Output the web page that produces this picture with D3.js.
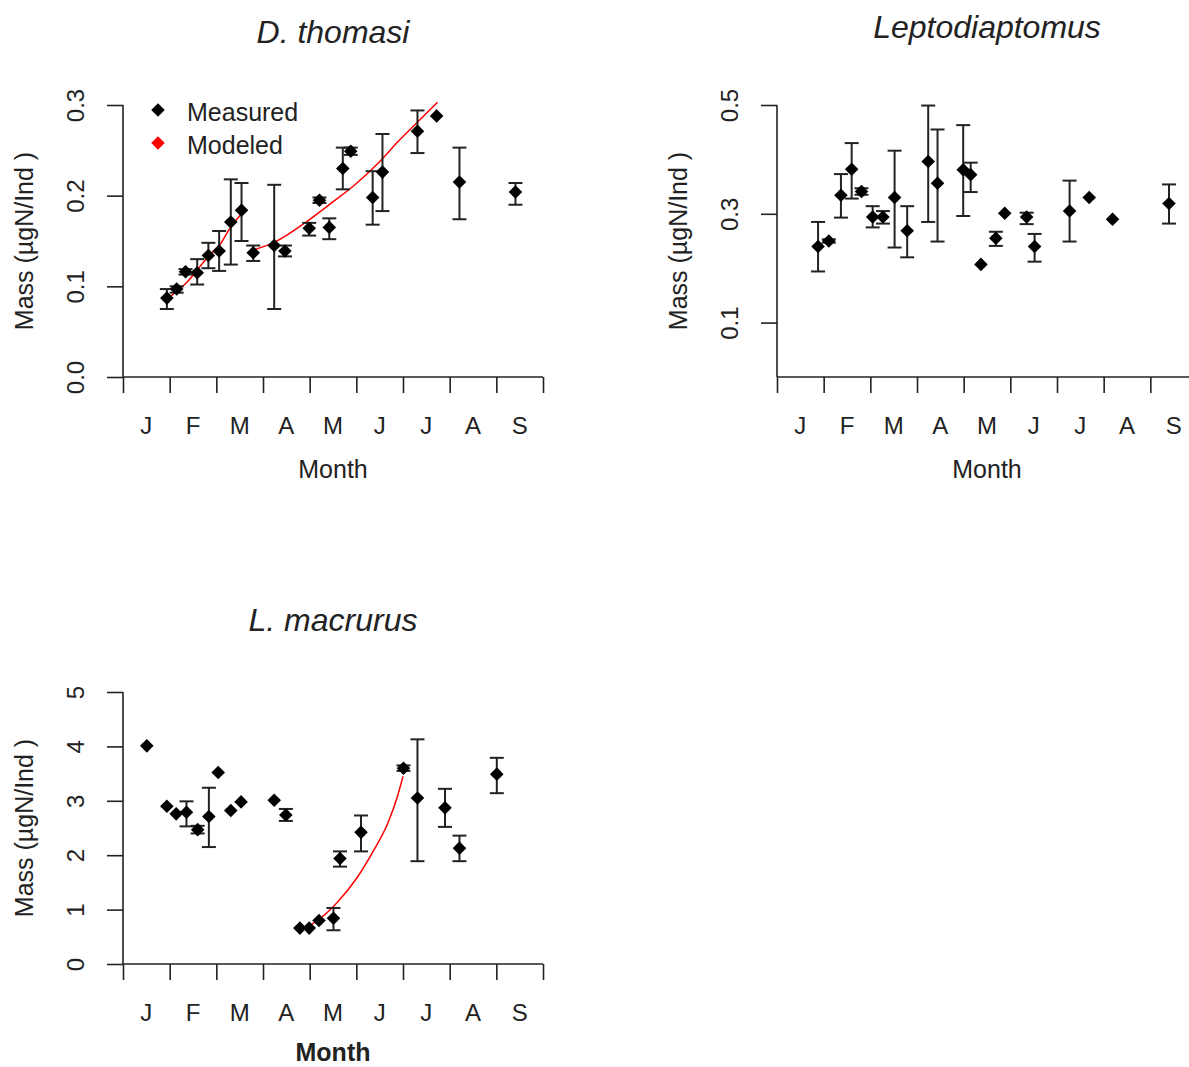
<!DOCTYPE html>
<html lang="en">
<head>
<meta charset="UTF-8">
<title>Mass by month</title>
<script src="https://d3js.org/d3.v7.min.js"></script>
<style>
body {
  margin: 0px;
  overflow: hidden;
  background: #fff;
}
text {
  font-family: "Liberation Sans", Arial, sans-serif;
  fill: #222;
}
.tick line, .domain {
  stroke: #222;
  stroke-width: 1.6px;
}
.tick text {
  font-size: 24px;
}
.axis-label {
  font-size: 25px;
}
.title {
  font-size: 32px;
  font-style: italic;
}
</style>
</head>
<body>
<svg width="1189" height="1067"></svg>
<script>
// months on the x axis, ticks sit on month boundaries
const monthLabels = ['J', 'F', 'M', 'A', 'M', 'J', 'J', 'A', 'S'];

// D. thomasi
const dtMonth = [0.94, 1.15, 1.34, 1.59, 1.83, 2.06, 2.31, 2.54, 2.79, 3.24, 3.47, 3.99, 4.21, 4.42, 4.71, 4.88, 5.35, 5.56, 6.31, 6.72, 7.21, 8.41];
const dtMass  = [0.087, 0.097, 0.116, 0.115, 0.134, 0.139, 0.171, 0.184, 0.137, 0.145, 0.139, 0.164, 0.195, 0.165, 0.230, 0.249, 0.198, 0.226, 0.271, 0.288, 0.215, 0.204];
const dtLo    = [0.075, 0.093, 0.113, 0.102, 0.120, 0.117, 0.124, 0.150, 0.128, 0.075, 0.133, 0.156, 0.192, 0.152, 0.207, 0.245, 0.168, 0.183, 0.247, null, 0.174, 0.190];
const dtHi    = [0.097, 0.100, 0.119, 0.130, 0.148, 0.161, 0.218, 0.214, 0.145, 0.212, 0.145, 0.170, 0.198, 0.175, 0.253, 0.253, 0.227, 0.268, 0.294, null, 0.253, 0.214];
const dtModel1Month = [0.94, 1.36, 1.83, 2.08, 2.29, 2.52];
const dtModel1Mass  = [0.086, 0.104, 0.133, 0.146, 0.164, 0.179];
const dtModel2Month = [2.79, 3.26, 3.90, 4.47, 4.97, 5.47, 5.90, 6.33, 6.74];
const dtModel2Mass  = [0.140, 0.149, 0.170, 0.192, 0.212, 0.236, 0.260, 0.282, 0.303];

// Leptodiaptomus
const lpMonth = [0.88, 1.11, 1.37, 1.60, 1.81, 2.05, 2.27, 2.52, 2.79, 3.24, 3.44, 3.99, 4.15, 4.37, 4.69, 4.88, 5.35, 5.52, 6.27, 6.69, 7.19, 8.40];
const lpMass  = [0.240, 0.250, 0.334, 0.382, 0.341, 0.294, 0.294, 0.330, 0.269, 0.396, 0.356, 0.381, 0.372, 0.207, 0.255, 0.301, 0.294, 0.240, 0.305, 0.330, 0.290, 0.319];
const lpLo    = [0.194, 0.247, 0.293, 0.328, 0.335, 0.275, 0.282, 0.238, 0.220, 0.285, 0.249, 0.296, 0.340, null, 0.241, null, 0.281, 0.212, 0.249, null, null, 0.282];
const lpHi    = [0.285, 0.253, 0.373, 0.430, 0.347, 0.314, 0.305, 0.416, 0.314, 0.499, 0.455, 0.463, 0.394, null, 0.267, null, 0.302, 0.263, 0.361, null, null, 0.354];

// L. macrurus
const lmMonth = [0.51, 0.94, 1.14, 1.36, 1.60, 1.84, 2.04, 2.31, 2.53, 3.24, 3.49, 3.79, 3.99, 4.20, 4.51, 4.65, 5.10, 6.01, 6.31, 6.90, 7.21, 8.01];
const lmMass  = [4.01, 2.90, 2.76, 2.79, 2.47, 2.71, 3.52, 2.82, 2.98, 3.01, 2.74, 0.66, 0.66, 0.80, 0.84, 1.94, 2.42, 3.60, 3.05, 2.87, 2.13, 3.49];
const lmLo    = [null, null, null, 2.53, 2.40, 2.15, null, null, null, null, 2.63, null, null, null, 0.62, 1.79, 2.07, 3.55, 1.89, 2.52, 1.89, 3.14];
const lmHi    = [null, null, null, 2.99, 2.54, 3.24, null, null, null, null, 2.85, null, null, null, 1.03, 2.07, 2.73, 3.65, 4.13, 3.22, 2.36, 3.79];
const lmModelMonth = [3.79, 4.15, 4.58, 5.01, 5.36, 5.69, 5.87, 6.00];
const lmModelMass  = [0.63, 0.79, 1.12, 1.58, 2.07, 2.62, 3.05, 3.45];

const svg = d3.select('svg');

const zip = (a, b, lo, hi) => a.map((d, i) => ({
  m: d, v: b[i], lo: lo ? lo[i] : null, hi: hi ? hi[i] : null
}));

const diamond = d3.symbol().type(d3.symbolSquare).size(92);

const panel = (props) => {
  const { left, top, title, titleY, yDomain, yTicks, yFormat, points, models, boldX } = props;
  const width = 420, height = 272;

  const x = d3.scaleLinear().domain([0, 9]).range([0, width]);
  const y = d3.scaleLinear().domain(yDomain).range([height, 0]);

  const g = svg.append('g').attr('transform', `translate(${left},${top})`);

  // y axis, labels turned to run along the axis
  const yAxisG = g.append('g')
    .call(d3.axisLeft(y).tickValues(yTicks).tickSize(16).tickSizeOuter(0).tickFormat(d3.format(yFormat)));
  yAxisG.select('.domain').attr('d', `M0,0V${height}`);
  yAxisG.selectAll('.tick text')
    .attr('x', null).attr('dy', null)
    .attr('text-anchor', 'middle')
    .attr('transform', 'translate(-39,0) rotate(-90)');

  // x axis, ticks on month boundaries, letters in between
  const xAxisG = g.append('g')
    .attr('transform', `translate(0,${height})`)
    .call(d3.axisBottom(x).tickValues(d3.range(10)).tickSize(16).tickSizeOuter(0).tickFormat(''));
  xAxisG.select('.domain').attr('d', `M0,0H${width}`);

  g.append('g').selectAll('text').data(monthLabels).join('text')
    .attr('x', (d, i) => x(i + 0.5))
    .attr('y', height + 57)
    .attr('text-anchor', 'middle')
    .style('font-size', '24px')
    .text(d => d);

  g.append('text')
    .attr('class', 'axis-label')
    .attr('x', width / 2)
    .attr('y', height + (boldX ? 97 : 101))
    .attr('text-anchor', 'middle')
    .style('font-weight', boldX ? 'bold' : null)
    .text('Month');

  g.append('text')
    .attr('class', 'axis-label')
    .attr('text-anchor', 'middle')
    .attr('transform', `translate(-90,${height / 2}) rotate(-90)`)
    .text('Mass (µgN/Ind )');

  g.append('text')
    .attr('class', 'title')
    .attr('x', width / 2)
    .attr('y', titleY - top)
    .attr('text-anchor', 'middle')
    .text(title);

  // modeled curves
  const line = d3.line().x(d => x(d.m)).y(d => y(d.v)).curve(d3.curveMonotoneX);
  models.forEach(md => {
    g.append('path')
      .attr('d', line(md))
      .attr('fill', 'none')
      .attr('stroke', 'red')
      .attr('stroke-width', 1.5);
  });

  // error bars
  const bars = points.filter(d => d.lo !== null);
  const bg = g.append('g').attr('stroke', '#222').attr('stroke-width', 2);
  bg.selectAll('.bar').data(bars).join('line')
    .attr('x1', d => x(d.m)).attr('x2', d => x(d.m))
    .attr('y1', d => y(d.lo)).attr('y2', d => y(d.hi));
  bg.selectAll('.cap-hi').data(bars).join('line')
    .attr('x1', d => x(d.m) - 7).attr('x2', d => x(d.m) + 7)
    .attr('y1', d => y(d.hi)).attr('y2', d => y(d.hi));
  bg.selectAll('.cap-lo').data(bars).join('line')
    .attr('x1', d => x(d.m) - 7).attr('x2', d => x(d.m) + 7)
    .attr('y1', d => y(d.lo)).attr('y2', d => y(d.lo));

  // measured points
  g.append('g').selectAll('path').data(points).join('path')
    .attr('d', diamond)
    .attr('fill', '#000')
    .attr('transform', d => `translate(${x(d.m)},${y(d.v)}) rotate(45)`);

  return g;
};

const g1 = panel({
  left: 123, top: 105, title: 'D. thomasi', titleY: 43,
  yDomain: [0, 0.3], yTicks: [0, 0.1, 0.2, 0.3], yFormat: '.1f',
  points: zip(dtMonth, dtMass, dtLo, dtHi),
  models: [zip(dtModel1Month, dtModel1Mass), zip(dtModel2Month, dtModel2Mass)]
});

panel({
  left: 777, top: 105, title: 'Leptodiaptomus', titleY: 38,
  yDomain: [0, 0.5], yTicks: [0.1, 0.3, 0.5], yFormat: '.1f',
  points: zip(lpMonth, lpMass, lpLo, lpHi),
  models: []
});

panel({
  left: 123, top: 692, title: 'L. macrurus', titleY: 631,
  yDomain: [0, 5], yTicks: [0, 1, 2, 3, 4, 5], yFormat: 'd',
  points: zip(lmMonth, lmMass, lmLo, lmHi),
  models: [zip(lmModelMonth, lmModelMass)],
  boldX: true
});

// legend in the first panel
const legend = g1.append('g');
const legendItems = [
  { label: 'Measured', color: '#000' },
  { label: 'Modeled', color: 'red' }
];
legendItems.forEach((d, i) => {
  legend.append('path')
    .attr('d', diamond)
    .attr('fill', d.color)
    .attr('transform', `translate(35,${5 + i * 33}) rotate(45)`);
  legend.append('text')
    .attr('x', 64)
    .attr('y', 16 + i * 33)
    .style('font-size', '25px')
    .text(d.label);
});
</script>
</body>
</html>
